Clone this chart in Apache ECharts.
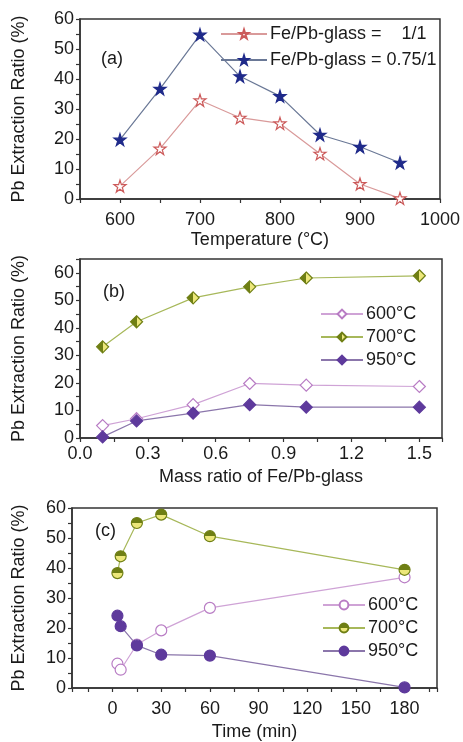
<!DOCTYPE html>
<html>
<head>
<meta charset="utf-8">
<script src="https://cdn.jsdelivr.net/npm/echarts@6/dist/echarts.min.js"></script>
<style>
  html, body { margin: 0; padding: 0; background: #fff; }
  #main { width: 463px; height: 742px; }
</style>
</head>
<body>
<div id="main"></div>
<script>
// (a) temperature series
var tempA = [600, 650, 700, 750, 800, 850, 900, 950];
var ratio11 = [4.3, 16.8, 32.9, 27.1, 25.2, 15.1, 5.0, 0.2];
var ratio075 = [19.8, 36.7, 54.8, 40.9, 34.3, 21.4, 17.4, 12.1];
// (b) mass ratio series
var massB = [0.1, 0.25, 0.5, 0.75, 1.0, 1.5];
var b600 = [4.5, 7.0, 12.1, 19.8, 19.2, 18.7];
var b700 = [33.1, 42.2, 50.9, 54.9, 58.1, 58.9];
var b950 = [0.4, 6.2, 9.0, 12.1, 11.2, 11.2];
// (c) time series
var timeC = [3, 5, 15, 30, 60, 180];
var c600 = [8.1, 6.1, 14.5, 19.2, 26.7, 36.9];
var c700 = [38.3, 43.9, 55.0, 57.8, 50.6, 39.4];
var c950 = [24.1, 20.6, 14.2, 11.1, 10.8, 0.2];
// tick labels
var tempTicks = [600, 700, 800, 900, 1000];
var massTicks = ['0.0', '0.3', '0.6', '0.9', '1.2', '1.5'];
var timeTicks = [0, 30, 60, 90, 120, 150, 180];
var pctTicks = [0, 10, 20, 30, 40, 50, 60];

var FONT = "'Liberation Sans', Arial, sans-serif";
var AX = '#333';
var TXT = '#1a1a1a';
var STAR = 'path://M50,2 L61,36 L97,36 L68,57 L79,92 L50,71 L21,92 L32,57 L3,36 L39,36 Z';

function zip(xs, ys) {
    var out = [];
    for (var i = 0; i < xs.length; i++) out.push([xs[i], ys[i]]);
    return out;
}

function yAxisOf(grid, max, gap) {
    return {
        type: 'value', gridIndex: grid, min: 0, max: max, interval: 5,
        name: 'Pb Extraction Ratio (%)', nameLocation: 'middle', nameGap: gap,
        nameTextStyle: { fontFamily: FONT, fontSize: 18, color: TXT },
        axisLine: { show: true, onZero: false, lineStyle: { color: AX, width: 1.5 } },
        axisTick: { show: true, length: 4, lineStyle: { color: AX, width: 1.2 } },
        splitLine: { show: false },
        axisLabel: {
            fontFamily: FONT, fontSize: 18, color: TXT, margin: 6,
            formatter: function (v) { return pctTicks.indexOf(v) >= 0 ? String(v) : ''; }
        }
    };
}

function xBase(grid) {
    return {
        type: 'value', gridIndex: grid,
        nameLocation: 'middle',
        nameTextStyle: { fontFamily: FONT, fontSize: 18, color: TXT },
        axisLine: { show: true, onZero: false, lineStyle: { color: AX, width: 1.5 } },
        axisTick: { show: true, length: 4, lineStyle: { color: AX, width: 1.2 } },
        splitLine: { show: false },
        axisLabel: { fontFamily: FONT, fontSize: 18, color: TXT, margin: 12 }
    };
}

var xa = xBase(0);
xa.min = 550; xa.max = 1000; xa.interval = 50;
xa.name = 'Temperature (°C)'; xa.nameGap = 32;
xa.axisLabel.formatter = function (v) { return tempTicks.indexOf(v) >= 0 ? String(v) : ''; };

var xb = xBase(1);
xb.min = 0; xb.max = 1.6; xb.interval = 0.15;
xb.name = 'Mass ratio of Fe/Pb-glass'; xb.nameGap = 30;
xb.axisLabel.margin = 7;
xb.axisLabel.formatter = function (v) {
    var s = (Math.round(v * 100) / 100).toFixed(2);
    var t = (Math.round(v * 10) / 10).toFixed(1);
    return (s === t + '0' && massTicks.indexOf(t) >= 0) ? t : '';
};

var xc = xBase(2);
xc.min = -25; xc.max = 200; xc.splitNumber = 7;
xc.minorTick = { show: true, splitNumber: 2, length: 4, lineStyle: { color: AX, width: 1.2 } };
xc.name = 'Time (min)'; xc.nameGap = 35;
xc.axisLabel.formatter = function (v) { return timeTicks.indexOf(v) >= 0 ? String(v) : ''; };

var pinkA = '#cc5a5a', pinkLineA = '#d99a9a';
var navy = '#1f2a8a', navyLine = '#6a7896';
var p600 = '#b87cc4', p600Line = '#cfa3d6';
var olive = '#6f7f14', oliveLine = '#a7b85a', yellow = '#ece77a';
var purple = '#5e3a9c', purpleLine = '#8b76ab';

function half(horizontal) {
    return {
        type: 'linear', x: 0, y: 0, x2: horizontal ? 1 : 0, y2: horizontal ? 0 : 1,
        colorStops: [
            { offset: 0, color: olive }, { offset: 0.5, color: olive },
            { offset: 0.5, color: yellow }, { offset: 1, color: yellow }
        ]
    };
}

function line(name, xi, data, sym, size, fill, edge, lineCol) {
    return {
        name: name, type: 'line', xAxisIndex: xi, yAxisIndex: xi,
        data: data, symbol: sym, symbolSize: size, showAllSymbol: true,
        lineStyle: { color: lineCol, width: 1.2 },
        itemStyle: { color: fill, borderColor: edge, borderWidth: 1.2 },
        emphasis: { disabled: true }, animation: false, z: 3
    };
}

var labelsMap = {
    a11: 'Fe/Pb-glass =    1/1', a075: 'Fe/Pb-glass = 0.75/1',
    b600: '600°C', b700: '700°C', b950: '950°C',
    c600: '600°C', c700: '700°C', c950: '950°C'
};

function legendOf(names, left, top, w, gap) {
    return {
        data: names, orient: 'vertical', left: left, top: top, padding: 0,
        itemWidth: w, itemHeight: 11, itemGap: gap, selectedMode: false,
        textStyle: { fontFamily: FONT, fontSize: 18, lineHeight: 18, color: TXT, padding: [0, 0, 0, -2] },
        formatter: function (n) { return labelsMap[n]; }
    };
}

var chart = echarts.init(document.getElementById('main'), null, { renderer: 'canvas' });
chart.setOption({
    backgroundColor: '#fff',
    animation: false,
    grid: [
        { left: 80, top: 19, width: 362, height: 180, show: true, borderColor: AX, borderWidth: 1.5, backgroundColor: 'transparent' },
        { left: 80, top: 259, width: 362, height: 179, show: true, borderColor: AX, borderWidth: 1.5, backgroundColor: 'transparent' },
        { left: 72, top: 508, width: 365, height: 180, show: true, borderColor: AX, borderWidth: 1.5, backgroundColor: 'transparent' }
    ],
    xAxis: [xa, xb, xc],
    yAxis: [yAxisOf(0, 60, 52), yAxisOf(1, 65, 52), yAxisOf(2, 60, 44)],
    legend: [
        legendOf(['a11', 'a075'], 220, 25, 46, 8),
        legendOf(['b600', 'b700', 'b950'], 320, 305, 42, 5),
        legendOf(['c600', 'c700', 'c950'], 322, 596, 42, 5)
    ],
    graphic: [
        { type: 'text', left: 101, top: 50, style: { text: '(a)', font: '18px ' + FONT, fill: TXT } },
        { type: 'text', left: 103, top: 283, style: { text: '(b)', font: '18px ' + FONT, fill: TXT } },
        { type: 'text', left: 95, top: 522, style: { text: '(c)', font: '18px ' + FONT, fill: TXT } }
    ],
    series: [
        line('a11', 0, zip(tempA, ratio11), STAR, 12, '#fff', pinkA, pinkLineA),
        line('a075', 0, zip(tempA, ratio075), STAR, 12, navy, navy, navyLine),
        line('b600', 1, zip(massB, b600), 'diamond', 12, '#fff', p600, p600Line),
        line('b700', 1, zip(massB, b700), 'diamond', 12, half(true), olive, oliveLine),
        line('b950', 1, zip(massB, b950), 'diamond', 12, purple, purple, purpleLine),
        line('c600', 2, zip(timeC, c600), 'circle', 11, '#fff', p600, p600Line),
        line('c700', 2, zip(timeC, c700), 'circle', 11, half(false), olive, oliveLine),
        line('c950', 2, zip(timeC, c950), 'circle', 11, purple, purple, purpleLine)
    ]
});
</script>
</body>
</html>
